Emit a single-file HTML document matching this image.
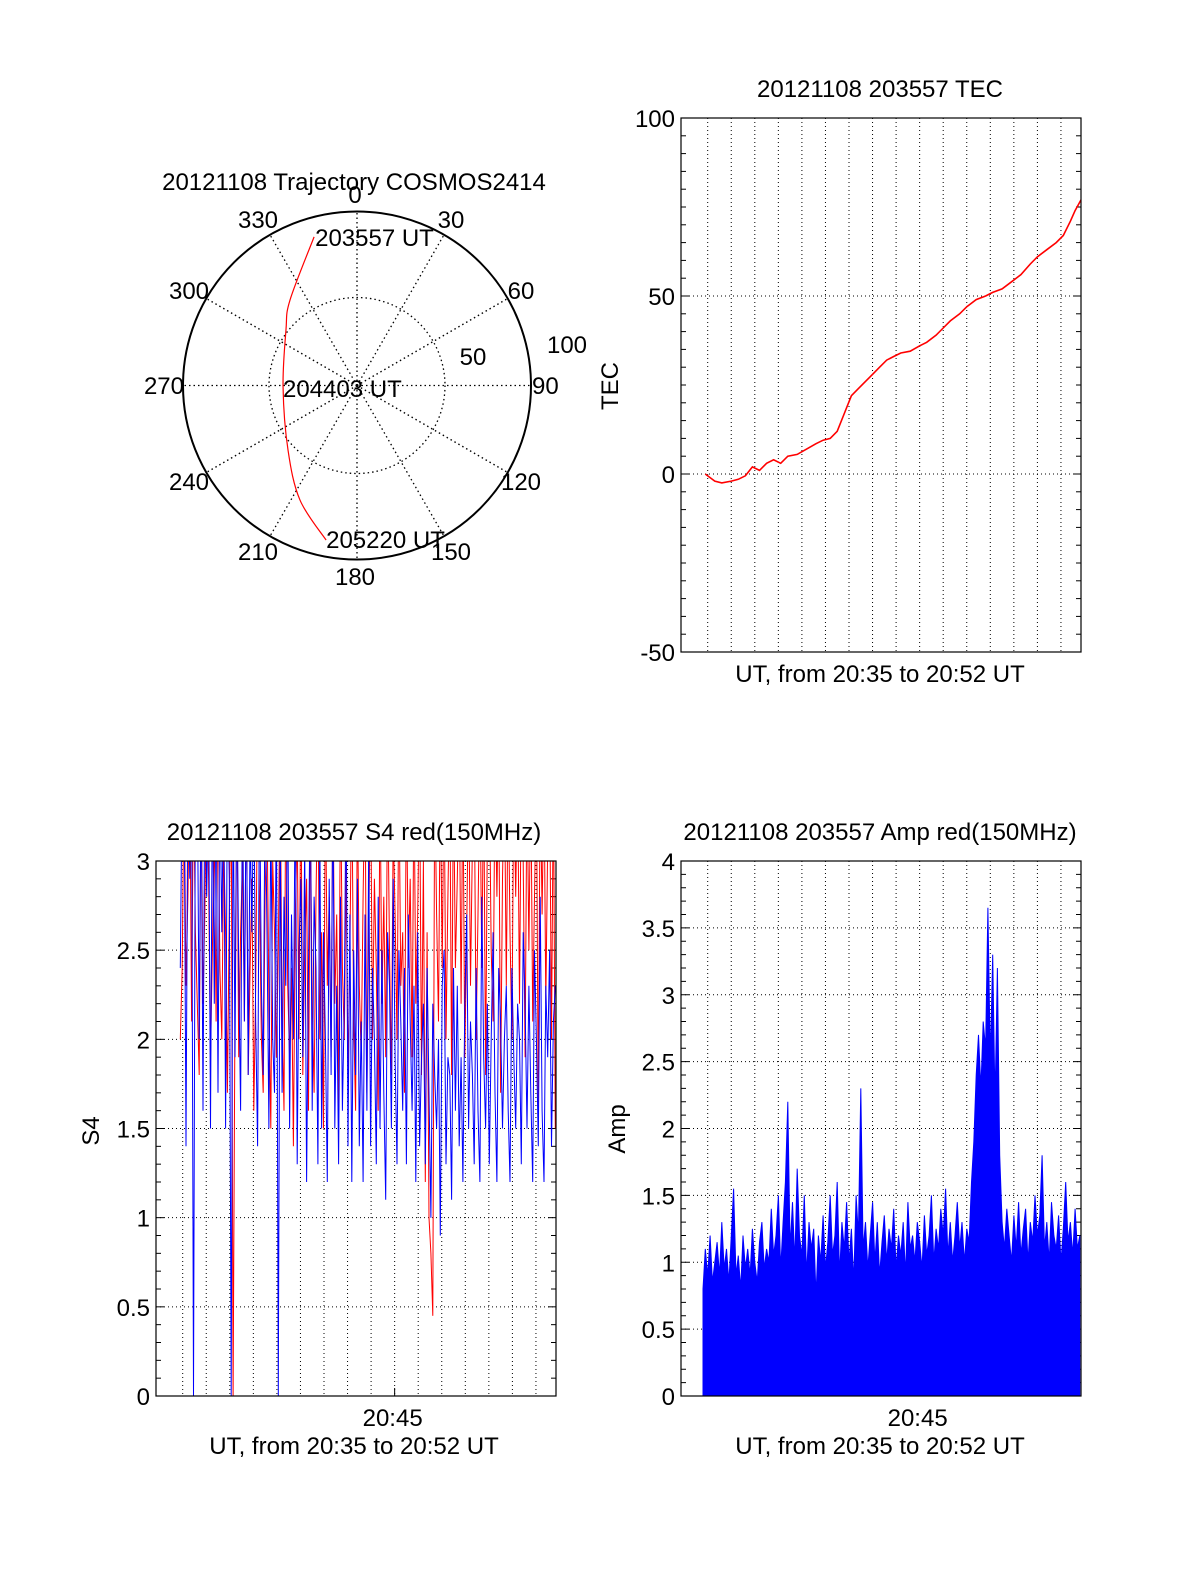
<!DOCTYPE html>
<html><head><meta charset="utf-8"><style>
html,body{margin:0;padding:0;background:#fff}
svg{display:block;font-family:"Liberation Sans",sans-serif}
text{font-size:24px;fill:#000}
</style></head><body>
<svg id="chart" width="1200" height="1575" viewBox="0 0 1200 1575" xmlns="http://www.w3.org/2000/svg">
<defs>
<clipPath id="clipS4"><rect x="156" y="861" width="400" height="535"/></clipPath>
<clipPath id="clipAmp"><rect x="681" y="861" width="400" height="535"/></clipPath>
<clipPath id="clipTec"><rect x="681" y="118" width="400" height="534"/></clipPath>
</defs>
</svg>
<script>
// ---- data ----
const polarAz = [343.9, 321.9, 308, 268.8, 226.9, 206.5, 191.3];
const polarZen = [88.9, 62.4, 51.8, 42.5, 54.3, 73.5, 90.6];
const polarLabels = ["203557 UT", "204403 UT", "205220 UT"];
const azTickLabels = ["0","30","60","90","120","150","180","210","240","270","300","330"];

const tecTimes = [35.9,36.1,36.3,36.6,37.0,37.3,37.6,37.9,38.2,38.5,38.8,39.1,39.4,39.8,40.2,40.6,40.9,41.2,41.5,41.8,42.1,42.4,42.7,43.0,43.3,43.6,43.9,44.2,44.6,45.0,45.3,45.7,46.0,46.3,46.7,47.0,47.4,47.8,48.1,48.5,48.9,49.3,49.7,50.0,50.4,50.8,51.1,51.4,51.6,51.85];
const tecValues = [0,-1,-2,-2.5,-2,-1.5,-0.5,2,1,3,4,3,5,5.5,7,8.5,9.5,10,12,17,22,24,26,28,30,32,33,34,34.5,36,37,39,41,43,45,47,49,50,51,52,54,56,59,61,63,65,67,71,74,77];
const tecTicks = [-50, 0, 50, 100];

const s4Start = 35.9, s4Step = 0.08;
const s4Red = [2.0,2.4,3.5,2.3,2.8,3.5,2.1,3.5,2.6,2.2,1.8,3.5,2.2,2.7,3.5,2.9,1.9,2.5,3.2,2.1,
3.5,2.4,2.0,3.1,2.6,1.7,2.7,3.5,0.0,2.2,3.5,1.9,2.6,3.0,2.1,3.5,1.8,2.4,2.9,1.6,
2.3,3.5,2.8,2.0,1.7,2.8,3.3,2.2,1.5,3.0,2.6,1.9,2.5,3.5,2.1,1.6,3.5,2.3,1.9,2.4,
1.4,2.7,3.2,2.0,3.5,1.8,2.5,2.9,1.6,3.3,2.2,1.7,2.8,3.5,2.0,2.6,1.5,3.5,2.3,2.8,
1.9,3.5,2.2,2.7,1.6,3.5,2.4,2.0,3.0,1.8,2.5,3.5,2.1,1.6,3.4,2.3,1.9,2.8,3.5,1.7,
2.6,3.5,2.0,2.9,2.4,1.6,3.5,2.2,2.8,1.9,3.5,2.5,1.8,3.2,2.7,2.0,3.5,2.3,2.6,1.7,
3.5,2.4,2.9,1.9,3.5,2.2,2.7,3.5,1.8,3.0,1.2,2.6,1.0,0.8,0.45,3.5,2.7,2.1,3.5,2.4,
3.5,2.0,2.8,3.5,1.8,3.5,2.4,2.9,3.5,2.2,3.5,1.9,2.6,3.5,2.3,3.1,3.5,2.0,2.7,3.5,
2.4,3.5,1.8,3.2,3.5,2.5,2.1,3.5,2.8,3.5,1.7,2.9,3.5,2.3,3.5,2.6,2.0,3.5,2.8,3.5,
2.2,3.5,3.0,1.9,3.5,2.5,3.5,2.1,2.8,3.5,1.6,3.5,2.7,3.5,2.2,3.1,3.5,2.0,3.5,1.5];
const s4Blue = [2.4,3.5,3.5,1.4,3.5,2.9,3.5,0.0,3.5,3.5,2.0,3.5,1.6,3.5,2.8,3.5,1.5,3.5,2.2,3.5,
1.7,3.5,2.6,3.5,1.5,3.5,2.9,0.0,3.5,1.9,3.5,2.4,1.6,3.5,2.1,3.5,1.8,3.2,2.6,3.5,
2.1,1.4,3.5,2.3,1.8,3.5,2.6,1.5,3.3,2.0,1.7,3.5,0.0,3.2,1.7,2.8,2.3,3.5,1.5,2.7,
2.0,3.5,1.3,2.5,2.9,1.9,3.1,1.2,2.4,3.5,1.6,2.8,2.4,1.3,3.2,1.5,2.6,2.0,1.2,2.9,
1.8,3.5,1.5,2.3,1.3,2.8,1.6,2.2,3.5,1.4,2.7,1.2,2.5,1.8,2.9,1.4,2.1,1.2,2.7,1.6,
3.1,1.4,2.4,2.0,1.3,2.8,1.5,2.5,1.7,1.1,2.6,2.3,1.5,2.9,1.9,1.3,2.5,2.1,1.6,2.4,
1.3,2.7,2.1,1.6,2.3,1.2,2.6,1.4,1.9,2.2,1.3,2.4,1.7,1.0,2.2,1.8,1.5,2.0,0.9,2.3,
2.5,1.3,1.9,1.8,1.1,2.4,1.6,2.3,1.4,1.9,1.2,2.2,2.7,1.5,2.1,1.8,1.3,2.4,1.6,1.2,
2.8,1.9,1.5,2.2,1.3,2.0,2.6,1.7,1.2,2.4,2.1,1.5,2.0,2.3,1.6,1.2,2.4,1.9,1.5,2.2,
2.0,1.3,2.6,2.2,1.5,2.3,1.7,1.2,2.5,2.0,1.4,2.8,1.6,1.2,2.3,1.9,2.5,1.4,2.1,2.3];
const s4Ticks = [0,0.5,1,1.5,2,2.5,3];
const s4TickLabels = ["0","0.5","1","1.5","2","2.5","3"];

const ampStart = 35.8, ampStep = 0.1;
const ampValues = [0.8,1.1,0.9,1.2,0.85,1.0,1.15,0.9,1.3,0.95, 1.1,0.85,1.2,1.55,0.9,1.05,0.8,1.2,0.95,1.1, 0.9,1.25,1.0,0.85,1.15,1.3,0.95,1.1,1.0,1.4, 1.05,1.2,1.5,0.95,1.3,1.6,2.2,1.1,1.45,1.0, 1.7,1.2,1.05,1.5,0.9,1.3,1.1,1.25,0.75,1.2, 1.0,1.35,0.95,1.15,1.5,1.05,1.2,1.6,0.9,1.3, 1.1,1.45,1.0,1.25,0.85,1.5,1.2,2.3,1.1,1.3, 0.95,1.2,1.45,1.0,1.3,0.9,1.15,1.35,1.0,1.25, 1.1,1.4,0.95,1.2,1.05,1.3,0.9,1.45,1.1,1.2, 1.0,1.3,1.15,0.95,1.35,1.05,1.2,1.5,1.0,1.25, 1.1,1.4,1.2,1.55,1.05,1.3,1.0,1.2,1.45,1.1, 1.3,1.0,1.25,1.15,1.6,1.9,2.4,2.7,2.3,2.8, 2.6,3.65,2.5,3.3,2.2,3.2,1.8,1.3,1.1,1.4, 1.2,1.0,1.35,1.1,1.45,1.05,1.25,1.4,1.0,1.3, 1.15,1.5,1.2,1.35,1.8,1.1,1.3,1.0,1.45,1.2, 1.1,1.35,1.0,1.25,1.6,1.15,1.3,1.05,1.4,1.1,1.2];
const ampTicks = [0,0.5,1,1.5,2,2.5,3,3.5,4];
const ampTickLabels = ["0","0.5","1","1.5","2","2.5","3","3.5","4"];

const gridMinutes = [36,37,38,39,40,41,42,43,44,45,46,47,48,49,50,51];
const xTickMinute = 45;
const xTickLabel = "20:45";
const xAxisTitle = "UT, from 20:35 to 20:52 UT";

// ---- helpers ----
const NS = "http://www.w3.org/2000/svg";
const svg = document.getElementById('chart');
function mk(tag, attrs, parent) {
  const e = document.createElementNS(NS, tag);
  for (const k in attrs) e.setAttribute(k, attrs[k]);
  (parent || svg).appendChild(e);
  return e;
}
function txt(s, x, y, anchor, parent) {
  const t = mk('text', {x: x, y: y, 'text-anchor': anchor || 'middle'}, parent);
  t.textContent = s;
  return t;
}
function makeX(left) { return t => left + 26.7 + (t - 36) * 23.55; }

function panel(name, left, top, w, h, ymin, ymax, ticks, tickLabels, minorStep, showXTick) {
  const g = mk('g', {});
  
  
  const X = makeX(left);
  const Y = v => top + h - (v - ymin) / (ymax - ymin) * h;
  gridMinutes.forEach(m => {
    const l = mk('line', {x1: X(m), x2: X(m), y1: top, y2: top + h, stroke: '#000', 'stroke-width': 1, 'stroke-dasharray': '1,3'}, g);
    
    
  });
  ticks.forEach(v => {
    const l = mk('line', {x1: left, x2: left + w, y1: Y(v), y2: Y(v), stroke: '#000', 'stroke-width': 1, 'stroke-dasharray': '1,3'}, g);
    
    
  });
  const n = Math.round((ymax - ymin) / minorStep);
  for (let i = 0; i <= n; i++) {
    const v = ymin + i * minorStep;
    const major = ticks.some(t => Math.abs(t - v) < 1e-6);
    const len = major ? 8 : 5;
    mk('line', {x1: left, x2: left + len, y1: Y(v), y2: Y(v), stroke: '#000', 'stroke-width': 1}, g);
    mk('line', {x1: left + w - len, x2: left + w, y1: Y(v), y2: Y(v), stroke: '#000', 'stroke-width': 1}, g);
  }
  ticks.forEach((v, i) => {
    const t = txt(tickLabels[i], left - 6, Y(v) + 9, 'end', g);
    
    
  });
  if (showXTick) {
    mk('line', {x1: X(xTickMinute), x2: X(xTickMinute), y1: top + h - 8, y2: top + h, stroke: '#000', 'stroke-width': 1}, g);
    const t = txt(xTickLabel, X(xTickMinute) - 2, top + h + 30, 'middle', g);
    
    
  }
  return {g, X, Y};
}
function frame(g, left, top, w, h) {
  const r = mk('rect', {x: left, y: top, width: w, height: h, fill: 'none', stroke: '#000', 'stroke-width': 1.2}, g);
  
  
}

// ---- polar trajectory ----
(function(){
  const cx = 357, cy = 385.5, R = 174, rmax = 100;
  const g = mk('g', {});
  
  
  const P = (az, z) => { const a = az * Math.PI / 180, r = z / rmax * R; return [cx + r * Math.sin(a), cy - r * Math.cos(a)]; };
  for (let k = 0; k < 12; k++) {
    const [x, y] = P(k * 30, rmax);
    const l = mk('line', {x1: cx, y1: cy, x2: x, y2: y, stroke: '#000', 'stroke-width': 1.3, 'stroke-dasharray': '1.5,3'}, g);
    
    
  }
  const ic = mk('circle', {cx: cx, cy: cy, r: R / 2 + 1, fill: 'none', stroke: '#000', 'stroke-width': 1.3, 'stroke-dasharray': '1.5,3'}, g);
  
  
  const oc = mk('circle', {cx: cx, cy: cy, r: R, fill: 'none', stroke: '#000', 'stroke-width': 2}, g);
  
  
  const pos = [[355,203,'middle'],[451,228,'middle'],[521,299,'middle'],[532,394,'start'],[521,490,'middle'],[451,560,'middle'],[355,585,'middle'],[258,560,'middle'],[189,490,'middle'],[184,394,'end'],[189,299,'middle'],[258,228,'middle']];
  azTickLabels.forEach((s, k) => {
    const t = txt(s, pos[k][0], pos[k][1], pos[k][2], g);
    
    
  });
  const l50 = txt("50", 473, 365, 'middle', g);
  
  
  const l100 = txt("100", 567, 353, 'middle', g);
  
  
  const pts = polarAz.map((a, i) => P(a, polarZen[i]));
  let d = 'M' + pts[0][0] + ',' + pts[0][1];
  for (let i = 0; i < pts.length - 1; i++) {
    const p0 = pts[Math.max(0, i - 1)], p1 = pts[i], p2 = pts[i + 1], p3 = pts[Math.min(pts.length - 1, i + 2)];
    const c1 = [p1[0] + (p2[0] - p0[0]) / 6, p1[1] + (p2[1] - p0[1]) / 6];
    const c2 = [p2[0] - (p3[0] - p1[0]) / 6, p2[1] - (p3[1] - p1[1]) / 6];
    d += ' C' + c1 + ' ' + c2 + ' ' + p2;
  }
  const tr = mk('path', {d: d, fill: 'none', stroke: '#f00', 'stroke-width': 1.2}, g);
  
  
  const first = pts[0], last = pts[pts.length - 1];
  const a = txt(polarLabels[0], first[0] + 1, first[1] + 9, 'start', g);
  
  
  const b = txt(polarLabels[1], 283, 397, 'start', g);
  
  
  const c = txt(polarLabels[2], last[0], last[1] + 8, 'start', g);
  
  
  const tt = txt("20121108 Trajectory COSMOS2414", 354, 190, 'middle', g);
  
  
})();

// ---- TEC ----
(function(){
  const L = 681, T = 118, W = 400, H = 534;
  const p = panel('tec', L, T, W, H, -50, 100, tecTicks, tecTicks.map(String), 5, false);
  const d = tecTimes.map((t, i) => (i ? 'L' : 'M') + p.X(t).toFixed(1) + ',' + p.Y(tecValues[i]).toFixed(1)).join(' ');
  const line = mk('path', {d: d, fill: 'none', stroke: '#f00', 'stroke-width': 1.6, 'clip-path': 'url(#clipTec)'}, p.g);
  
  
  frame(p.g, L, T, W, H);
  const t1 = txt("20121108 203557 TEC", 880, 97, 'middle', p.g);
  
  
  const t2 = txt(xAxisTitle, 880, 682, 'middle', p.g);
  
  
  const t3 = txt("TEC", 0, 0, 'middle', p.g);
  t3.setAttribute('transform', 'translate(618,386) rotate(-90)');
  
  
})();

// ---- S4 ----
(function(){
  const L = 156, T = 861, W = 400, H = 535;
  const p = panel('s4', L, T, W, H, 0, 3, s4Ticks, s4TickLabels, 0.1, true);
  const path = arr => arr.map((v, i) => (i ? 'L' : 'M') + p.X(s4Start + i * s4Step).toFixed(1) + ',' + p.Y(v).toFixed(1)).join(' ');
  const r = mk('path', {d: path(s4Red), fill: 'none', stroke: '#f00', 'stroke-width': 1, 'clip-path': 'url(#clipS4)'}, p.g);
  
  
  const b = mk('path', {d: path(s4Blue), fill: 'none', stroke: '#00f', 'stroke-width': 1, 'clip-path': 'url(#clipS4)'}, p.g);
  
  
  frame(p.g, L, T, W, H);
  const t1 = txt("20121108 203557 S4 red(150MHz)", 354, 840, 'middle', p.g);
  
  
  const t2 = txt(xAxisTitle, 354, 1454, 'middle', p.g);
  
  
  const t3 = txt("S4", 0, 0, 'middle', p.g);
  t3.setAttribute('transform', 'translate(99,1131) rotate(-90)');
  
  
})();

// ---- Amp ----
(function(){
  const L = 681, T = 861, W = 400, H = 535;
  const p = panel('amp', L, T, W, H, 0, 4, ampTicks, ampTickLabels, 0.1, true);
  let d = 'M' + p.X(ampStart).toFixed(1) + ',' + p.Y(0);
  ampValues.forEach((v, i) => { d += ' L' + p.X(ampStart + i * ampStep).toFixed(1) + ',' + p.Y(v).toFixed(1); });
  d += ' L' + p.X(ampStart + (ampValues.length - 1) * ampStep).toFixed(1) + ',' + p.Y(0) + ' Z';
  const a = mk('path', {d: d, fill: '#00f', stroke: '#00f', 'stroke-width': 1, 'clip-path': 'url(#clipAmp)'}, p.g);
  
  
  frame(p.g, L, T, W, H);
  const t1 = txt("20121108 203557 Amp red(150MHz)", 880, 840, 'middle', p.g);
  
  
  const t2 = txt(xAxisTitle, 880, 1454, 'middle', p.g);
  
  
  const t3 = txt("Amp", 0, 0, 'middle', p.g);
  t3.setAttribute('transform', 'translate(625,1129) rotate(-90)');
  
  
})();
</script>
</body></html>
